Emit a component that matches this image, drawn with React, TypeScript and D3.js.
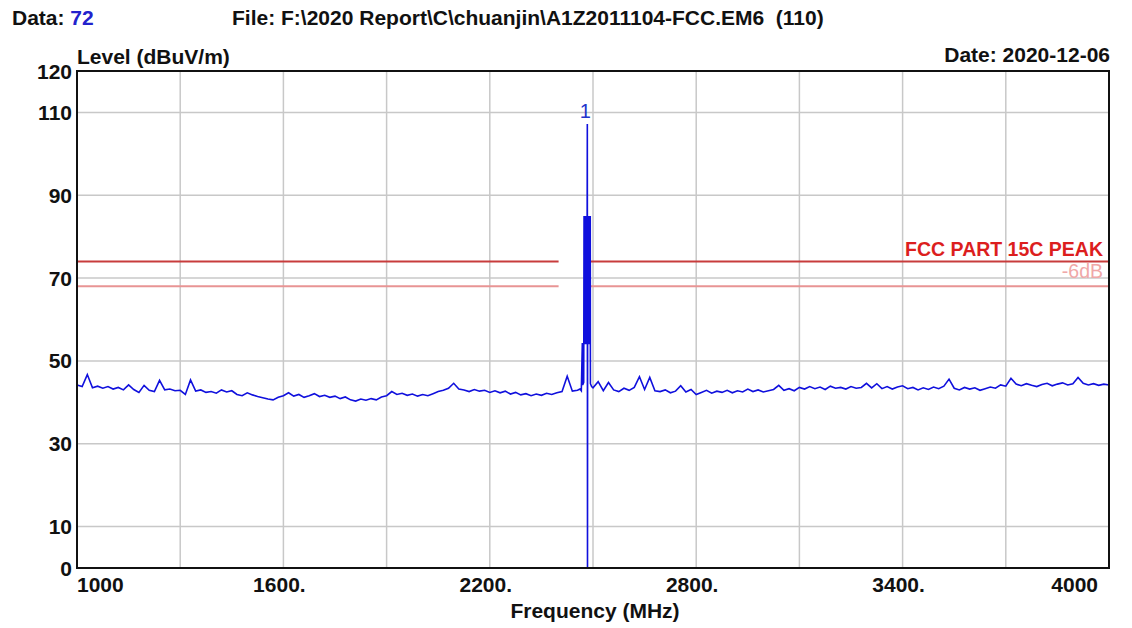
import React from "react";
import * as d3 from "d3";

// ---------- data ----------
const yTickValues = [0, 10, 30, 50, 70, 90, 110, 120];
const yGridValues = [10, 30, 50, 70, 90, 110];
const xGridValues = [1300, 1600, 1900, 2200, 2500, 2800, 3100, 3400, 3700];
const xTickLabels: [number, string][] = [
  [1000, "1000"],
  [1600, "1600."],
  [2200, "2200."],
  [2800, "2800."],
  [3400, "3400."],
  [4000, "4000"],
];

const limitPeak = 74; // FCC PART 15C PEAK
const limitMargin = 68; // -6dB
const limitGapStart = 2400;
const limitGapEnd = 2490;

// noise floor below carrier: 1000 MHz .. 2455 MHz, 15 MHz step
const lowStart = 1000;
const lowStep = 15;
const lowLevels = [
  44.2, 43.8, 46.7, 43.5, 43.9, 43.4, 43.8, 43.2, 43.6, 43.0,
  44.2, 43.1, 42.4, 44.1, 42.9, 42.6, 45.3, 43.0, 43.2, 42.8,
  42.9, 41.9, 45.4, 42.7, 43.0, 42.4, 42.6, 42.2, 43.0, 42.5,
  42.8, 41.9, 41.6, 42.3, 41.8, 41.4, 41.1, 40.8, 40.6, 41.2,
  41.6, 42.3, 41.5, 41.9, 41.2, 41.6, 42.1, 41.4, 41.7, 41.2,
  41.5, 40.9, 41.3, 40.6, 40.3, 40.8, 40.5, 40.9, 40.6, 41.3,
  41.6, 42.6, 41.9, 42.2, 41.7, 42.0, 41.5, 41.9, 41.6, 42.1,
  42.6, 42.9, 43.4, 44.6, 43.2, 43.0, 42.6, 43.1, 42.7, 42.9,
  42.4, 42.8, 42.3, 42.7, 42.0, 42.4, 41.8, 42.1, 41.6, 42.0,
  41.7, 42.2, 41.9, 42.3, 42.6, 46.3, 42.7, 42.9,
];

// carrier region (MHz, dBuV/m)
const carrierFreqs = [
  2462, 2466, 2469, 2470, 2473,
  2474, 2474.75, 2475.5, 2476.25, 2477, 2477.75, 2478.5, 2479.25, 2480, 2480.75,
  2481.5, 2482.25, 2483, 2483.5, 2484, 2484.5, 2485.25, 2486, 2486.75, 2487.5,
  2488.25, 2489, 2489.75, 2490.5, 2491.25, 2492,
  2492.5, 2496,
];
const carrierLevels = [
  43.2, 42.8, 54.3, 44.2, 44.8,
  85, 54, 85, 54, 85, 54, 85, 54, 85, 54,
  85, 54, 85, 107.2, 0, 85, 54, 85, 54, 85,
  54, 85, 54, 85, 54, 85,
  44.5, 43.8,
];

// noise floor above carrier: 2500 MHz .. 4000 MHz, 15 MHz step
const highStart = 2500;
const highStep = 15;
const highLevels = [
  43.5, 45.0, 42.8, 44.8, 43.0, 42.6, 43.4, 42.9, 43.6, 46.2,
  43.1, 46.0, 42.8, 42.6, 43.0, 42.3, 42.7, 44.0, 42.5, 43.1,
  41.9, 42.4, 42.9, 42.2, 42.7, 42.4, 42.9, 42.3, 42.8, 42.5,
  43.2, 42.6, 43.0, 42.5, 42.8, 43.1, 44.1, 42.9, 43.3, 42.8,
  43.6, 43.2, 43.8, 43.3, 43.7, 43.1, 43.9, 43.4, 43.6, 43.2,
  43.8, 43.4, 43.6, 44.6, 43.5, 44.5, 43.3, 43.8, 43.2, 43.7,
  44.0, 43.3, 43.6, 43.0, 43.5, 43.1, 43.7, 43.3, 43.9, 45.6,
  43.4, 43.0, 43.6, 43.2, 43.5, 42.9, 43.3, 43.7, 43.4, 44.2,
  43.9, 45.8, 44.4, 44.0, 44.5, 44.1, 43.8, 44.3, 44.6, 44.0,
  44.4, 44.7, 44.2, 44.5, 46.0, 44.6, 44.2, 44.5, 44.1, 44.4,
  44.2,
];

const markerFreq = 2483.5;
const markerLevel = 107.2;
const markerLabel = "1";

// ---------- layout ----------
const W = 1132;
const H = 628;
const left = 77;
const right = 1109;
const top = 71;
const bottom = 568;
const FONT = "'Liberation Sans', Arial, sans-serif";

export default function App() {
  const x = d3.scaleLinear().domain([1000, 4000]).range([left, right]);
  const y = d3.scaleLinear().domain([0, 120]).range([bottom, top]);

  const trace: [number, number][] = [];
  lowLevels.forEach((v, i) => trace.push([lowStart + i * lowStep, v]));
  carrierFreqs.forEach((f, i) => trace.push([f, carrierLevels[i]]));
  highLevels.forEach((v, i) => trace.push([highStart + i * highStep, v]));

  const line = d3
    .line<[number, number]>()
    .x((d) => x(d[0]))
    .y((d) => y(d[1]));

  const limitSegs: [number, number][] = [
    [1000, limitGapStart],
    [limitGapEnd, 4000],
  ];

  return (
    <svg
      width={W}
      height={H}
      style={{ position: "absolute", left: 0, top: 0, background: "#fff" }}
      fontFamily={FONT}
    >
      <rect x={0} y={0} width={W} height={H} fill="#fff" />
      {/* header */}
      <text x={12} y={25} fontSize={21} fontWeight="bold" fill="#111">
        Data: <tspan fill="#2222cc">72</tspan>
      </text>
      <text x={232} y={25} fontSize={21} fontWeight="bold" fill="#111" style={{ whiteSpace: "pre" }}>
        {"File: F:\\2020 Report\\C\\chuanjin\\A1Z2011104-FCC.EM6  (110)"}
      </text>
      <text x={77} y={64} fontSize={21} fontWeight="bold" fill="#111">
        Level (dBuV/m)
      </text>
      <text x={1110} y={62} fontSize={21} fontWeight="bold" fill="#111" textAnchor="end">
        Date: 2020-12-06
      </text>

      {/* grid */}
      {yGridValues.map((v) => (
        <line key={"gy" + v} x1={left} x2={right} y1={y(v)} y2={y(v)} stroke="#c8c8c8" strokeWidth={1.5} />
      ))}
      {xGridValues.map((v) => (
        <line key={"gx" + v} x1={x(v)} x2={x(v)} y1={top} y2={bottom} stroke="#c8c8c8" strokeWidth={1.5} />
      ))}

      {/* limit lines */}
      {limitSegs.map(([a, b], i) => (
        <g key={"lim" + i}>
          <line x1={x(a)} x2={x(b)} y1={y(limitPeak)} y2={y(limitPeak)} stroke="#c83c3c" strokeWidth={2} />
          <line x1={x(a)} x2={x(b)} y1={y(limitMargin)} y2={y(limitMargin)} stroke="#e89494" strokeWidth={2} />
        </g>
      ))}
      <text x={1103} y={y(limitPeak) - 6} fontSize={19.5} fontWeight="bold" fill="#dc1e1e" textAnchor="end">
        FCC PART 15C PEAK
      </text>
      <text x={1103} y={y(limitMargin) - 8} fontSize={19.5} fill="#f0a8a8" textAnchor="end">
        -6dB
      </text>

      {/* trace */}
      <path d={line(trace) || ""} fill="none" stroke="#1010dd" strokeWidth={1.6} strokeLinejoin="miter" />
      <text
        x={x(markerFreq) - 2}
        y={y(markerLevel) - 6}
        fontSize={20}
        fill="#2233cc"
        textAnchor="middle"
      >
        {markerLabel}
      </text>

      {/* frame */}
      <rect x={left} y={top} width={right - left} height={bottom - top} fill="none" stroke="#111" strokeWidth={2} />

      {/* y tick labels */}
      {yTickValues.map((v) => (
        <text
          key={"yt" + v}
          x={72}
          y={y(v)}
          dy="0.36em"
          fontSize={21}
          fontWeight="bold"
          fill="#111"
          textAnchor="end"
        >
          {v}
        </text>
      ))}

      {/* x tick labels */}
      {xTickLabels.map(([v, s], i) => (
        <text
          key={"xt" + v}
          x={i === 0 ? left : i === xTickLabels.length - 1 ? right - 11 : x(v) - 4}
          y={592}
          fontSize={21}
          fontWeight="bold"
          fill="#111"
          textAnchor={i === 0 ? "start" : i === xTickLabels.length - 1 ? "end" : "middle"}
        >
          {s}
        </text>
      ))}
      <text x={595} y={618} fontSize={21} fontWeight="bold" fill="#111" textAnchor="middle">
        Frequency (MHz)
      </text>
    </svg>
  );
}
